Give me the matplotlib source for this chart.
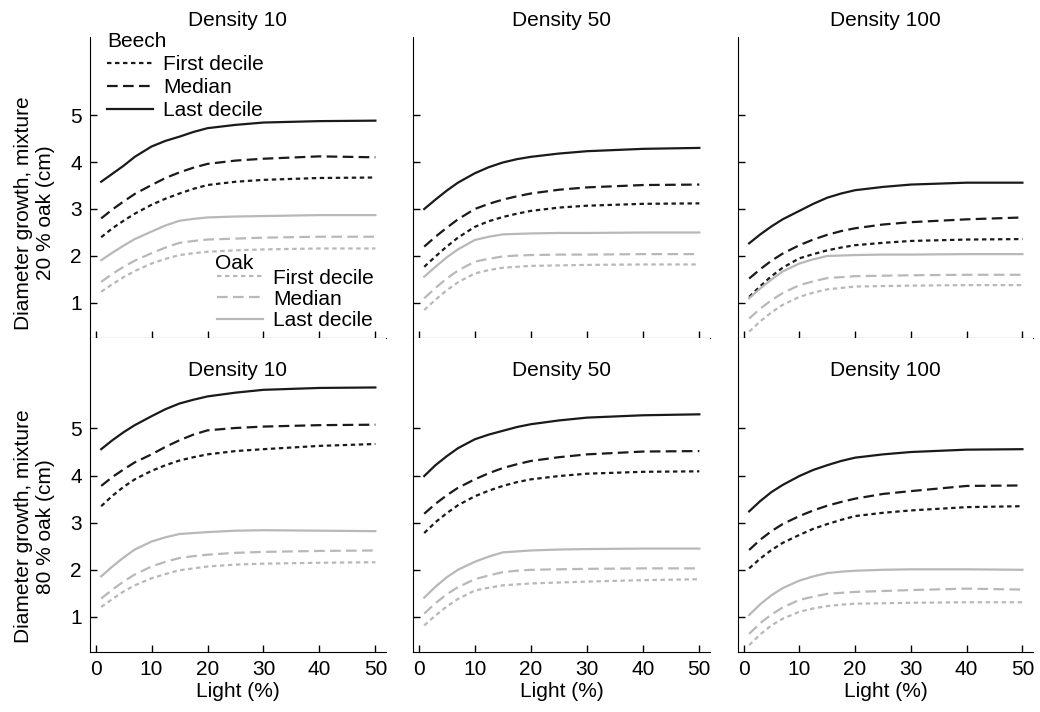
import matplotlib
matplotlib.use('Agg')
import matplotlib.pyplot as plt
from matplotlib.lines import Line2D

plt.rcParams['font.family'] = ['Liberation Sans', 'DejaVu Sans']

# light levels (%) where curves were read
light = [1, 3, 5, 7, 10, 12.5, 15, 17.5, 20, 25, 30, 40, 50]

densities = ['Density 10', 'Density 50', 'Density 100']
decile_names = ['First decile', 'Median', 'Last decile']

# rows: first decile, median, last decile  (20 % oak mixture)
beech_20_d10 = [[2.40, 2.59, 2.75, 2.90, 3.09, 3.22, 3.33, 3.43, 3.51, 3.58, 3.62, 3.66, 3.67],
                [2.80, 2.99, 3.16, 3.32, 3.51, 3.66, 3.78, 3.88, 3.96, 4.03, 4.07, 4.12, 4.10],
                [3.58, 3.75, 3.92, 4.11, 4.33, 4.45, 4.54, 4.64, 4.72, 4.79, 4.84, 4.87, 4.88]]
oak_20_d10 = [[1.24, 1.40, 1.55, 1.68, 1.84, 1.94, 2.02, 2.06, 2.09, 2.12, 2.14, 2.16, 2.16],
              [1.45, 1.62, 1.77, 1.90, 2.06, 2.18, 2.28, 2.32, 2.35, 2.37, 2.39, 2.41, 2.41],
              [1.91, 2.07, 2.22, 2.36, 2.52, 2.65, 2.75, 2.79, 2.82, 2.84, 2.85, 2.87, 2.87]]
beech_20_d50 = [[1.77, 1.99, 2.20, 2.39, 2.62, 2.74, 2.83, 2.90, 2.96, 3.03, 3.07, 3.11, 3.12],
                [2.20, 2.41, 2.60, 2.78, 3.00, 3.11, 3.20, 3.27, 3.33, 3.41, 3.46, 3.51, 3.52],
                [3.00, 3.20, 3.39, 3.56, 3.76, 3.89, 3.99, 4.06, 4.11, 4.18, 4.23, 4.28, 4.30]]
oak_20_d50 = [[0.85, 1.07, 1.27, 1.44, 1.63, 1.70, 1.75, 1.77, 1.79, 1.80, 1.81, 1.82, 1.82],
              [1.10, 1.32, 1.52, 1.69, 1.88, 1.94, 1.99, 2.01, 2.02, 2.03, 2.03, 2.04, 2.04],
              [1.56, 1.77, 1.97, 2.14, 2.34, 2.41, 2.46, 2.47, 2.48, 2.49, 2.49, 2.50, 2.50]]
beech_20_d100 = [[1.13, 1.36, 1.57, 1.75, 1.95, 2.04, 2.12, 2.18, 2.23, 2.28, 2.32, 2.35, 2.36],
                 [1.52, 1.72, 1.90, 2.05, 2.23, 2.35, 2.45, 2.53, 2.59, 2.67, 2.72, 2.78, 2.82],
                 [2.27, 2.46, 2.63, 2.78, 2.96, 3.11, 3.24, 3.33, 3.40, 3.47, 3.52, 3.56, 3.56]]
oak_20_d100 = [[0.39, 0.61, 0.80, 0.96, 1.13, 1.22, 1.29, 1.32, 1.35, 1.36, 1.37, 1.38, 1.38],
               [0.67, 0.88, 1.06, 1.21, 1.38, 1.46, 1.53, 1.55, 1.57, 1.58, 1.59, 1.60, 1.60],
               [1.10, 1.31, 1.50, 1.67, 1.84, 1.93, 2.00, 2.01, 2.02, 2.03, 2.03, 2.04, 2.04]]

# 80 % oak mixture
beech_80_d10 = [[3.35, 3.57, 3.76, 3.92, 4.10, 4.22, 4.32, 4.39, 4.45, 4.52, 4.56, 4.63, 4.67],
                [3.78, 3.97, 4.13, 4.28, 4.45, 4.61, 4.75, 4.87, 4.96, 5.01, 5.04, 5.07, 5.08],
                [4.56, 4.75, 4.92, 5.07, 5.26, 5.41, 5.53, 5.61, 5.68, 5.76, 5.82, 5.86, 5.87]]
oak_80_d10 = [[1.21, 1.38, 1.54, 1.67, 1.82, 1.91, 1.99, 2.03, 2.07, 2.11, 2.13, 2.15, 2.16],
              [1.39, 1.58, 1.75, 1.90, 2.07, 2.17, 2.25, 2.29, 2.32, 2.36, 2.38, 2.40, 2.41],
              [1.86, 2.07, 2.26, 2.43, 2.60, 2.69, 2.76, 2.78, 2.80, 2.83, 2.84, 2.83, 2.82]]
beech_80_d50 = [[2.78, 3.01, 3.20, 3.37, 3.56, 3.68, 3.78, 3.86, 3.92, 3.99, 4.04, 4.08, 4.09],
                [3.19, 3.40, 3.58, 3.74, 3.92, 4.05, 4.16, 4.24, 4.31, 4.39, 4.45, 4.51, 4.52],
                [3.99, 4.22, 4.41, 4.58, 4.77, 4.87, 4.95, 5.03, 5.09, 5.17, 5.23, 5.28, 5.30]]
oak_80_d50 = [[0.82, 1.03, 1.22, 1.38, 1.56, 1.62, 1.67, 1.69, 1.71, 1.73, 1.75, 1.78, 1.80],
              [1.07, 1.29, 1.48, 1.63, 1.80, 1.88, 1.95, 1.98, 2.00, 2.01, 2.02, 2.03, 2.03],
              [1.41, 1.64, 1.84, 2.00, 2.17, 2.28, 2.37, 2.39, 2.41, 2.43, 2.44, 2.45, 2.45]]
beech_80_d100 = [[2.03, 2.24, 2.42, 2.57, 2.74, 2.87, 2.97, 3.06, 3.14, 3.21, 3.26, 3.33, 3.35],
                 [2.42, 2.64, 2.82, 2.97, 3.14, 3.26, 3.36, 3.44, 3.51, 3.61, 3.67, 3.78, 3.79],
                 [3.24, 3.46, 3.65, 3.80, 3.99, 4.12, 4.22, 4.31, 4.38, 4.45, 4.50, 4.55, 4.56]]
oak_80_d100 = [[0.40, 0.63, 0.82, 0.96, 1.11, 1.18, 1.23, 1.26, 1.28, 1.29, 1.30, 1.31, 1.31],
               [0.64, 0.87, 1.05, 1.20, 1.36, 1.43, 1.49, 1.51, 1.53, 1.55, 1.57, 1.60, 1.58],
               [1.04, 1.27, 1.46, 1.61, 1.77, 1.86, 1.93, 1.96, 1.98, 2.00, 2.01, 2.01, 2.00]]

beech_rows = [[beech_20_d10, beech_20_d50, beech_20_d100],
              [beech_80_d10, beech_80_d50, beech_80_d100]]
oak_rows = [[oak_20_d10, oak_20_d50, oak_20_d100],
            [oak_80_d10, oak_80_d50, oak_80_d100]]
ylabels = ['Diameter growth, mixture\n20 % oak (cm)',
           'Diameter growth, mixture\n80 % oak (cm)']

beech_col = '#1a1a1a'
oak_col = '#b8b8b8'
styles = [(0, (2.0, 1.6)), (0, (4.8, 2.4)), '-']
lw = 1.6
fs = 15

W, H = 1040, 712
fig = plt.figure(figsize=(W / 100, H / 100), dpi=100)

col_px = [(90, 386), (413, 710), (738, 1033)]
row_px = [(37, 338), (338, 652)]
ylims = [(0.255, 6.66), (0.255, 6.92)]
ylabel_y = [0.415, 0.40]

axes = {}
for r in range(2):
    for c in range(3):
        x0, x1 = col_px[c]
        t, b = row_px[r]
        ax = fig.add_axes([x0 / W, 1 - b / H, (x1 - x0) / W, (b - t) / H])
        axes[(r, c)] = ax
        for k in range(3):
            ax.plot(light, beech_rows[r][c][k], color=beech_col, lw=lw, ls=styles[k])
            ax.plot(light, oak_rows[r][c][k], color=oak_col, lw=lw, ls=styles[k])
        ax.set_xlim(-1, 51.9)
        ax.set_ylim(*ylims[r])
        ax.set_xticks([0, 10, 20, 30, 40, 50])
        ax.set_yticks([1, 2, 3, 4, 5])
        ax.spines['top'].set_visible(False)
        ax.spines['right'].set_visible(False)
        ax.tick_params(direction='in', length=5, width=1, labelsize=fs, pad=6)
        if c > 0:
            ax.tick_params(labelleft=False)
        if r == 0:
            ax.tick_params(labelbottom=False)
            ax.set_title(densities[c], fontsize=fs, pad=8)
        else:
            ax.text(0.5, 0.895, densities[c], transform=ax.transAxes,
                    ha='center', va='center', fontsize=fs)
            ax.set_xlabel('Light (%)', fontsize=fs, labelpad=2)
        if c == 0:
            ax.set_ylabel(ylabels[r], fontsize=fs, linespacing=1.2)
            ax.yaxis.set_label_coords(-0.118, ylabel_y[r])

# legends in the first panel
ax = axes[(0, 0)]
beech_h = [Line2D([], [], color=beech_col, lw=lw, ls=s) for s in styles]
oak_h = [Line2D([], [], color=oak_col, lw=lw, ls=s) for s in styles]
leg1 = ax.legend(beech_h, decile_names, title='Beech', loc='upper left',
                 bbox_to_anchor=(0.057, 1.017), frameon=False, fontsize=fs,
                 title_fontsize=fs, handlelength=2.2, handletextpad=0.5,
                 labelspacing=0.2, borderaxespad=0, borderpad=0,
                 alignment='left')
ax.add_artist(leg1)
ax.legend(oak_h, decile_names, loc='lower left',
          bbox_to_anchor=(0.429, 0.027), frameon=False, fontsize=fs,
          handlelength=2.2, handletextpad=0.5,
          labelspacing=0.1, borderaxespad=0, borderpad=0)
ax.text(0.422, 0.249, 'Oak', transform=ax.transAxes, fontsize=fs,
        ha='left', va='center')

fig.savefig('out.png', dpi=100)
